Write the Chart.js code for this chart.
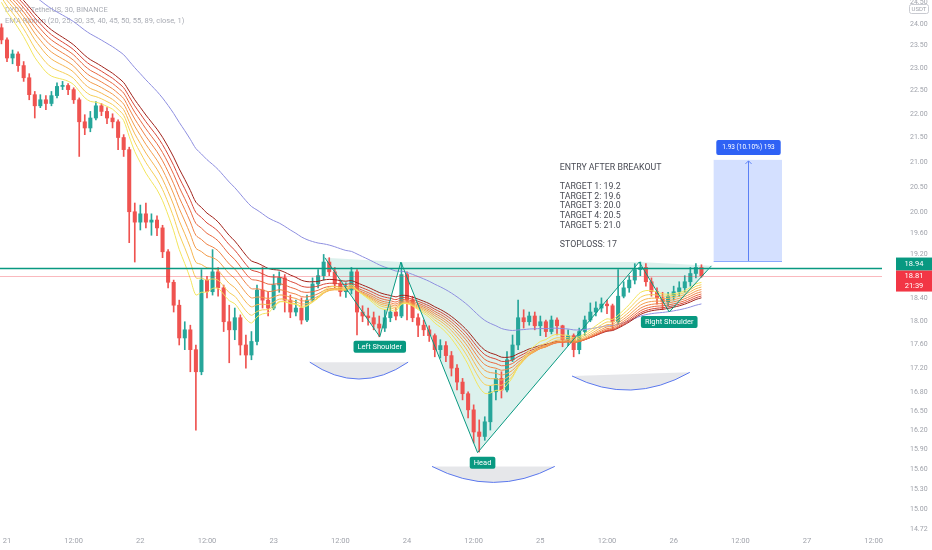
<!DOCTYPE html>
<html><head><meta charset="utf-8">
<script src="https://cdn.jsdelivr.net/npm/chart.js@4/dist/chart.umd.min.js"></script>
<style>html,body{margin:0;padding:0;background:#fff;overflow:hidden}</style>
</head><body>
<canvas id="c" width="932" height="550" style="display:block;width:932px;height:550px"></canvas>
<script>
// ---------- DATA ----------
// hourly candles, hour offset from "21" 00:00
const startHour = -1;
const opens = [23.91,23.63,23.22,23.31,23.05,22.78,22.41,22.17,22.30,22.22,22.39,22.59,22.61,22.52,22.30,21.83,21.70,21.91,22.17,22.05,21.91,21.83,21.50,21.25,20.01,19.81,19.97,19.81,19.85,19.70,19.25,18.69,18.28,17.71,17.85,17.51,17.14,18.73,18.52,18.88,18.59,17.99,17.85,18.06,17.59,17.42,17.65,18.55,18.37,18.23,18.64,18.77,18.37,18.16,18.23,18.02,18.37,18.66,18.81,19.06,18.88,18.66,18.52,18.55,18.88,18.16,18.09,18.06,17.95,17.88,18.06,18.16,18.09,18.83,18.37,18.06,17.93,17.85,17.75,17.51,17.58,17.41,17.20,16.97,16.78,16.52,16.17,16.10,16.33,16.81,17.03,16.84,17.34,17.59,18.06,17.99,18.09,17.92,17.99,17.82,18.02,17.92,17.68,17.75,17.51,17.82,18.02,18.16,18.23,18.30,18.27,17.99,18.44,18.59,18.73,18.92,18.96,18.70,18.52,18.41,18.34,18.44,18.52,18.59,18.70,18.85,18.96];
const highs = [24.00,23.68,23.40,23.36,23.14,22.87,22.48,22.41,22.39,22.48,22.67,22.70,22.65,22.56,22.34,21.98,22.05,22.26,22.22,22.13,22.00,21.87,21.56,21.30,20.18,20.14,20.18,19.97,19.93,19.75,19.29,18.73,18.37,17.99,17.93,17.59,18.92,18.80,19.29,18.96,18.64,18.28,18.23,18.11,17.76,17.82,18.64,18.97,18.51,18.83,18.88,18.83,18.46,18.37,18.41,18.46,18.77,18.92,19.20,19.14,18.96,18.73,18.68,18.96,18.92,18.27,18.23,18.16,18.09,18.20,18.27,18.23,19.04,18.88,18.44,18.13,18.02,17.92,17.78,17.68,17.65,17.48,17.26,17.03,16.81,16.60,16.36,16.41,16.90,17.17,17.14,17.48,17.76,18.37,18.20,18.16,18.16,18.09,18.02,18.09,18.06,17.93,17.85,17.78,17.88,18.09,18.32,18.34,18.41,18.37,18.30,18.92,18.70,18.81,19.03,19.06,19.03,18.77,18.59,18.51,18.51,18.62,18.70,18.81,18.96,19.03,19.01];
const lows = [23.54,23.14,23.09,22.92,22.70,22.30,21.91,22.13,22.09,22.17,22.34,22.52,22.41,22.22,21.11,21.56,21.62,21.87,21.96,21.79,21.70,21.25,21.11,19.42,19.06,19.66,19.70,19.56,19.55,19.14,18.59,18.16,17.59,17.51,17.14,16.20,17.09,18.41,18.46,18.44,17.82,17.29,17.68,17.42,17.20,17.34,17.59,18.23,18.09,18.20,18.51,18.16,18.06,18.09,17.95,17.99,18.34,18.59,18.73,18.81,18.59,18.44,18.42,18.48,17.76,17.99,17.93,17.85,17.73,17.82,17.99,18.02,18.06,18.02,17.99,17.73,17.75,17.65,17.39,17.37,17.31,17.07,16.84,16.68,16.39,16.00,15.86,16.04,16.20,16.68,16.71,16.81,17.31,17.51,17.88,17.93,17.85,17.75,17.73,17.78,17.76,17.56,17.58,17.39,17.44,17.75,17.99,18.09,18.16,18.13,17.85,17.95,18.41,18.51,18.66,18.81,18.62,18.44,18.30,18.20,18.27,18.37,18.44,18.51,18.62,18.77,18.78];
const closes = [23.63,23.22,23.31,23.05,22.78,22.41,22.17,22.30,22.22,22.39,22.59,22.61,22.52,22.30,21.83,21.70,21.91,22.17,22.05,21.91,21.83,21.50,21.25,20.01,19.81,19.97,19.81,19.85,19.70,19.25,18.69,18.28,17.71,17.85,17.51,17.14,18.73,18.52,18.88,18.59,17.99,17.85,18.06,17.59,17.42,17.65,18.55,18.37,18.23,18.64,18.77,18.37,18.16,18.23,18.02,18.37,18.66,18.81,19.06,18.88,18.66,18.52,18.55,18.88,18.16,18.09,18.06,17.95,17.88,18.06,18.16,18.09,18.83,18.37,18.06,17.93,17.85,17.75,17.51,17.58,17.41,17.20,16.97,16.78,16.52,16.17,16.10,16.33,16.81,17.03,16.84,17.34,17.59,18.06,17.99,18.09,17.92,17.99,17.82,18.02,17.92,17.68,17.75,17.51,17.82,18.02,18.16,18.23,18.30,18.27,17.99,18.44,18.59,18.73,18.92,18.96,18.70,18.52,18.41,18.34,18.44,18.52,18.59,18.70,18.85,18.96,18.81];

// EMA ribbon (30-minute periods; two 30-min bars per hourly candle)
const emaPeriods = [20,25,30,35,40,45,50,55];
const emaSeeds   = [24.70,24.80,24.90,24.95,25.00,25.05,25.10,25.15];
const ema89Period = 89;
const ema89Seed = 25.30;
const barsPerCandle = 2;

// axis ticks
const xTickHours  = [0,12,24,36,48,60,72,84,96,108,120,132,144,156];
const xTickLabels = ['21','12:00','22','12:00','23','12:00','24','12:00','25','12:00','26','12:00','27','12:00'];
const yTickValues = [24.50,24.00,23.50,23.00,22.50,22.00,21.50,21.00,20.50,20.00,19.60,19.20,18.40,18.00,17.60,17.20,16.80,16.50,16.20,15.90,15.60,15.30,15.00,14.72];
const yMin = 14.65, yMax = 24.56, xMin = -1.26, xMax = 157.5;

// annotations (data units: hours, prices)
const necklinePrice = 18.94;
const lastPrice = 18.81;
const countdown = '21:39';
const hsHours  = [57.2, 67.1, 70.9, 84.7, 113.8, 119.2, 126.8];
const hsPrices = [19.14, 17.73, 19.06, 15.85, 19.06, 18.16, 18.99];
const hsLabels = ['Left Shoulder','Head','Right Shoulder'];
const arcStartHours  = [54.5, 76.5, 101.7];
const arcEndHours    = [72.2, 98.6, 122.9];
const arcStartPrices = [17.30, 15.64, 17.07];
const arcEndPrices   = [17.30, 15.64, 17.13];
const arcBottomPrices= [17.02, 15.40, 16.84];
const posStartHour = 127.2, posEndHour = 139.5, posEntry = 19.08, posTarget = 21.04;
const posLabel = '1.93 (10.10%) 193';
const noteHour = 99.5, notePrice = 20.88;
const noteLines = ['ENTRY AFTER BREAKOUT','','TARGET 1: 19.2','TARGET 2: 19.6','TARGET 3: 20.0','TARGET 4: 20.5','TARGET 5: 21.0','','STOPLOSS: 17'];
const headerLines = ['DYDX / TetherUS, 30, BINANCE','EMA Ribbon (20, 25, 30, 35, 40, 45, 50, 55, 89, close, 1)'];

// ---------- STYLE ----------
const upColor = '#26a69a', downColor = '#ef5350';
const ribbonColors = ['#f3e55d','#f6cf58','#f6b651','#f39c4b','#ef8245','#e8673f','#d94838','#a0221a'];
const ema89Color = '#8e8fe0';
const teal = '#089981';
const FONT = 'Roboto, "Noto Sans", sans-serif';

function emaSeries(period, seed) {
  const a = 2 / (period + 1); let e = seed; const out = [];
  closes.forEach((c, i) => { for (let k = 0; k < barsPerCandle; k++) e += a * (c - e); out.push({x: startHour + i, y: e}); });
  return out;
}

const bodyData = closes.map((c, i) => ({x: startHour + i, y: [opens[i], c]}));
const wickData = closes.map((c, i) => ({x: startHour + i, y: [lows[i], highs[i]]}));
const candleColor = ctx => closes[ctx.dataIndex] >= opens[ctx.dataIndex] ? upColor : downColor;

const datasets = [];
emaPeriods.forEach((p, k) => datasets.push({type:'line', data: emaSeries(p, emaSeeds[k]), borderColor: ribbonColors[k], borderWidth: 1, pointRadius: 0, tension: 0.3, order: 0}));
datasets.push({type:'line', data: emaSeries(ema89Period, ema89Seed), borderColor: ema89Color, borderWidth: 1, pointRadius: 0, tension: 0.3, order: 0});
datasets.push({type:'bar', data: bodyData, backgroundColor: candleColor, barThickness: 3.4, grouped: false, minBarLength: 1, borderWidth: 0, order: 1});
datasets.push({type:'bar', data: wickData, backgroundColor: candleColor, barThickness: 1, grouped: false, borderWidth: 0, order: 2});

function rr(ctx, x, y, w, h, r) {
  ctx.beginPath(); ctx.moveTo(x + r, y); ctx.lineTo(x + w - r, y); ctx.quadraticCurveTo(x + w, y, x + w, y + r);
  ctx.lineTo(x + w, y + h - r); ctx.quadraticCurveTo(x + w, y + h, x + w - r, y + h); ctx.lineTo(x + r, y + h);
  ctx.quadraticCurveTo(x, y + h, x, y + h - r); ctx.lineTo(x, y + r); ctx.quadraticCurveTo(x, y, x + r, y); ctx.closePath();
}

const overlay = {
  id: 'overlay',
  beforeDatasetsDraw(chart) {
    const {ctx, chartArea: ca, scales: {x, y}} = chart;
    ctx.save();
    ctx.font = '7.5px ' + FONT; ctx.fillStyle = '#a9acb4'; ctx.textBaseline = 'middle'; ctx.textAlign = 'left';
    ctx.fillText(headerLines[0], 5, 10); ctx.fillText(headerLines[1], 5, 21);
    ctx.beginPath(); ctx.rect(ca.left, ca.top, ca.width, ca.height); ctx.clip();
    ctx.fillStyle = 'rgba(8,153,129,0.14)';
    [[0,1,2],[2,3,4],[4,5,6]].forEach(t => {
      ctx.beginPath();
      t.forEach((k, j) => { const px = x.getPixelForValue(hsHours[k]), py = y.getPixelForValue(hsPrices[k]); j ? ctx.lineTo(px, py) : ctx.moveTo(px, py); });
      ctx.closePath(); ctx.fill();
    });
    for (let i = 0; i < arcStartHours.length; i++) {
      const x1 = x.getPixelForValue(arcStartHours[i]), y1 = y.getPixelForValue(arcStartPrices[i]);
      const x2 = x.getPixelForValue(arcEndHours[i]), y2 = y.getPixelForValue(arcEndPrices[i]);
      const yb = y.getPixelForValue(arcBottomPrices[i]);
      const cx = (x1 + x2) / 2, cy = 2 * yb - (y1 + y2) / 2;
      ctx.beginPath(); ctx.moveTo(x1, y1); ctx.quadraticCurveTo(cx, cy, x2, y2); ctx.closePath();
      ctx.fillStyle = 'rgba(190,193,200,0.38)'; ctx.fill();
      ctx.beginPath(); ctx.moveTo(x1, y1); ctx.quadraticCurveTo(cx, cy, x2, y2);
      ctx.strokeStyle = '#5b78ee'; ctx.lineWidth = 1; ctx.stroke();
    }
    ctx.restore();
  },
  afterDatasetsDraw(chart) {
    const {ctx, chartArea: ca, scales: {x, y}} = chart;
    ctx.save();
    ctx.beginPath(); ctx.rect(ca.left, ca.top, ca.width, ca.height); ctx.clip();
    const yl = Math.round(y.getPixelForValue(lastPrice)) + 0.5;
    ctx.strokeStyle = 'rgba(242,54,69,0.35)'; ctx.lineWidth = 1;
    ctx.beginPath(); ctx.moveTo(ca.left, yl); ctx.lineTo(ca.right, yl); ctx.stroke();
    const yn = y.getPixelForValue(necklinePrice);
    ctx.strokeStyle = teal; ctx.lineWidth = 1.5;
    ctx.beginPath(); ctx.moveTo(ca.left, yn); ctx.lineTo(ca.right, yn); ctx.stroke();
    ctx.strokeStyle = teal; ctx.lineWidth = 1;
    ctx.beginPath();
    hsHours.forEach((h, k) => { const px = x.getPixelForValue(h), py = y.getPixelForValue(hsPrices[k]); k ? ctx.lineTo(px, py) : ctx.moveTo(px, py); });
    ctx.stroke();
    ctx.font = '7.5px ' + FONT; ctx.textAlign = 'center'; ctx.textBaseline = 'middle';
    [1, 3, 5].forEach((k, j) => {
      const px = x.getPixelForValue(hsHours[k]) + (j === 1 ? 5 : 0), py = y.getPixelForValue(hsPrices[k]) + 10;
      const w = ctx.measureText(hsLabels[j]).width + 8;
      ctx.fillStyle = teal; rr(ctx, px - w / 2, py - 6, w, 12, 2); ctx.fill();
      ctx.fillStyle = '#ffffff'; ctx.fillText(hsLabels[j], px, py + 0.5);
    });
    ctx.font = '8.8px ' + FONT; ctx.fillStyle = '#4a4c55'; ctx.textAlign = 'left'; ctx.textBaseline = 'middle';
    const nx = x.getPixelForValue(noteHour), ny = y.getPixelForValue(notePrice);
    noteLines.forEach((t, i) => ctx.fillText(t, nx, ny + i * 9.6));
    const bx1 = x.getPixelForValue(posStartHour), bx2 = x.getPixelForValue(posEndHour);
    const by1 = y.getPixelForValue(posTarget), by2 = y.getPixelForValue(posEntry);
    ctx.fillStyle = 'rgba(41,98,255,0.2)'; ctx.fillRect(bx1, by1, bx2 - bx1, by2 - by1);
    ctx.strokeStyle = 'rgba(41,98,255,0.55)'; ctx.lineWidth = 1;
    ctx.beginPath(); ctx.moveTo(bx1, Math.round(by2) + 0.5); ctx.lineTo(bx2, Math.round(by2) + 0.5); ctx.stroke();
    const xm = Math.round((bx1 + bx2) / 2) + 0.5;
    ctx.strokeStyle = '#5b80f5';
    ctx.beginPath(); ctx.moveTo(xm, by2); ctx.lineTo(xm, by1 + 1); ctx.stroke();
    ctx.beginPath(); ctx.moveTo(xm - 3, by1 + 4); ctx.lineTo(xm, by1 + 1); ctx.lineTo(xm + 3, by1 + 4); ctx.stroke();
    ctx.restore();
    ctx.save();
    ctx.font = '6.5px ' + FONT; ctx.textAlign = 'center'; ctx.textBaseline = 'middle';
    const lw = ctx.measureText(posLabel).width + 12;
    ctx.fillStyle = '#2f62f5'; rr(ctx, xm - lw / 2, by1 - 20, lw, 15, 2); ctx.fill();
    ctx.fillStyle = '#ffffff'; ctx.fillText(posLabel, xm, by1 - 12.5);
    ctx.restore();
  },
  afterDraw(chart) {
    const {ctx, chartArea: ca, scales: {y}} = chart;
    ctx.save();
    const bx = ca.right + 14, bw = chart.width - bx;
    ctx.font = '7.5px ' + FONT; ctx.textAlign = 'center'; ctx.textBaseline = 'middle';
    const yn = y.getPixelForValue(necklinePrice);
    const gTop = yn - 11;
    ctx.fillStyle = teal; ctx.fillRect(bx, gTop, bw, 13);
    ctx.fillStyle = '#fff'; ctx.fillText(necklinePrice.toFixed(2), bx + bw / 2, gTop + 6.8);
    const rTop = gTop + 13;
    ctx.fillStyle = '#f23645'; ctx.fillRect(bx, rTop, bw, 21);
    ctx.fillStyle = '#fff'; ctx.fillText(lastPrice.toFixed(2), bx + bw / 2, rTop + 5.5);
    ctx.fillText(countdown, bx + bw / 2, rTop + 15.5);
    ctx.strokeStyle = '#c9cbd1'; ctx.lineWidth = 1;
    rr(ctx, 909.5, 4.5, 19, 9, 2); ctx.fillStyle = '#fff'; ctx.fill(); ctx.stroke();
    ctx.font = '6px ' + FONT; ctx.fillStyle = '#a0a3ab'; ctx.fillText('USDT', 919, 9.3);
    ctx.restore();
  }
};

new Chart(document.getElementById('c'), {
  type: 'bar',
  data: {datasets},
  options: {
    responsive: false, animation: false, devicePixelRatio: 1,
    layout: {padding: 0, autoPadding: false},
    plugins: {legend: {display: false}, tooltip: {enabled: false}},
    scales: {
      x: {type: 'linear', min: xMin, max: xMax, offset: false,
          grid: {display: false, drawTicks: false}, border: {display: false},
          afterBuildTicks: s => { s.ticks = xTickHours.map(v => ({value: v})); },
          afterFit: s => { s.height = 16; s.paddingLeft = 0; s.paddingRight = 0; },
          ticks: {autoSkip: false, maxRotation: 0, padding: 3, color: '#a0a3ab', font: {family: FONT, size: 7.5}, callback: (v, i) => xTickLabels[i]}},
      y: {type: 'logarithmic', position: 'right', min: yMin, max: yMax, beginAtZero: false,
          grid: {display: false, drawTicks: false}, border: {display: false},
          afterBuildTicks: s => { s.ticks = yTickValues.map(v => ({value: v})); },
          afterFit: s => { s.width = 50; s.paddingTop = 0; s.paddingBottom = 0; },
          ticks: {autoSkip: false, padding: 28, color: '#a0a3ab', font: {family: FONT, size: 7}, callback: v => Number(v).toFixed(2)}}
    }
  },
  plugins: [overlay]
});
</script>
</body></html>
